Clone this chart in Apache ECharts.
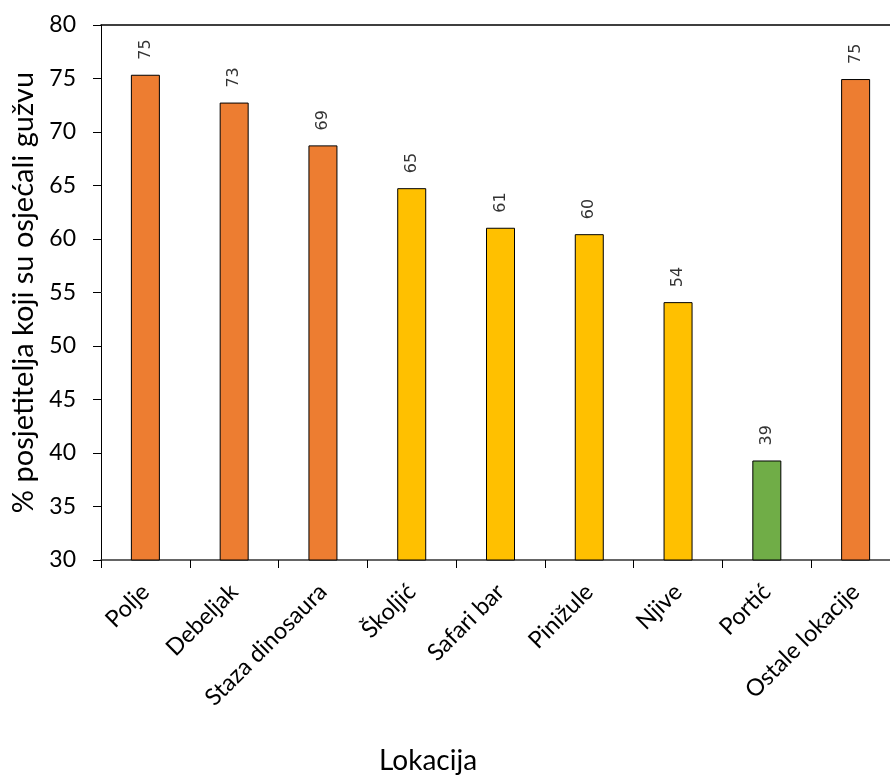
<!DOCTYPE html>
<html>
<head>
<meta charset="utf-8">
<script src="https://cdn.jsdelivr.net/npm/echarts@6/dist/echarts.min.js"></script>
<style>html,body{margin:0;padding:0;background:#fff}#c{width:890px;height:775px}</style>
</head>
<body>
<div id="c"></div>
<script>
const categories = ['Polje','Debeljak','Staza dinosaura','Školjić','Safari bar','Pinižule','Njive','Portić','Ostale lokacije'];
const values = [75.35, 72.75, 68.75, 64.75, 61.05, 60.45, 54.1, 39.3, 74.95];
const valueLabels = ['75','73','69','65','61','60','54','39','75'];
const barColors = ['#ED7D31','#ED7D31','#ED7D31','#FFC000','#FFC000','#FFC000','#FFC000','#70AD47','#ED7D31'];
const yTicks = [30,35,40,45,50,55,60,65,70,75,80];

const chart = echarts.init(document.getElementById('c'));
chart.setOption({
  animation: false,
  title: {
    text: 'Lokacija', left: 374, top: 742,
    textStyle: {fontFamily: 'Lato', fontSize: 28, fontWeight: 'normal', color: '#000'}
  },
  grid: {left: 101, top: 25, width: 799, bottom: 215, outerBoundsMode: 'none', containLabel: false},
  xAxis: [{
    type: 'category', data: categories,
    axisLine: {lineStyle: {color: '#333', width: 1.5}},
    axisTick: {show: true, length: 8, lineStyle: {color: '#000'}},
    axisLabel: {rotate: 45, fontFamily: 'Lato', fontSize: 23.5, color: '#000', margin: 28, interval: 0}
  }, {
    type: 'category', data: categories, position: 'top',
    axisLine: {show: true, lineStyle: {color: '#000', width: 1.5}},
    axisTick: {show: false}, axisLabel: {show: false}
  }],
  yAxis: {
    type: 'value', min: 30, max: 80, interval: 5,
    axisLine: {show: true, lineStyle: {color: '#000'}},
    axisTick: {show: true, length: 8, lineStyle: {color: '#000'}},
    splitLine: {show: false},
    axisLabel: {fontFamily: 'Lato', fontSize: 23, color: '#000', margin: 25,
      formatter: v => yTicks.includes(v) ? String(v) : ''},
    name: '% posjetitelja koji su osjećali gužvu', nameLocation: 'middle', nameGap: 59,
    nameTextStyle: {fontFamily: 'Lato', fontSize: 29, color: '#000'}
  },
  series: [{
    type: 'bar', barWidth: 29,
    data: values.map((v, i) => ({value: v, itemStyle: {color: barColors[i]}})),
    itemStyle: {borderColor: '#000', borderWidth: 1},
    label: {
      show: true, position: 'top', rotate: 90, distance: 15,
      align: 'left', verticalAlign: 'middle',
      fontFamily: 'DejaVu Sans', fontSize: 16, color: '#333',
      formatter: p => valueLabels[p.dataIndex]
    }
  }]
});
</script>
</body>
</html>
